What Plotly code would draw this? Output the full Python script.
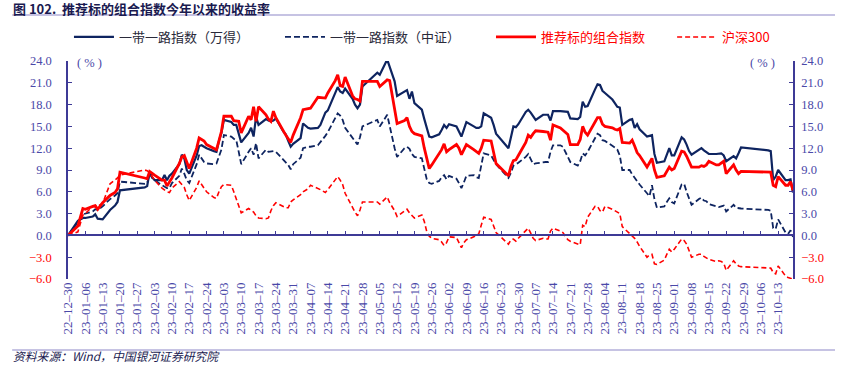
import plotly.graph_objects as go

# ---------------- data ----------------
dates = [
    "2022-12-30", "2023-01-03", "2023-01-05", "2023-01-06", "2023-01-09", "2023-01-10", "2023-01-11", "2023-01-13",
    "2023-01-16", "2023-01-18", "2023-01-19", "2023-01-20", "2023-01-30", "2023-01-31", "2023-02-01", "2023-02-02",
    "2023-02-03", "2023-02-06", "2023-02-07", "2023-02-08", "2023-02-09", "2023-02-10", "2023-02-13", "2023-02-14",
    "2023-02-15", "2023-02-16", "2023-02-17", "2023-02-20", "2023-02-21", "2023-02-22", "2023-02-23", "2023-02-24",
    "2023-02-27", "2023-02-28", "2023-03-01", "2023-03-02", "2023-03-03", "2023-03-06", "2023-03-07", "2023-03-08",
    "2023-03-09", "2023-03-10", "2023-03-13", "2023-03-14", "2023-03-15", "2023-03-16", "2023-03-17", "2023-03-20",
    "2023-03-21", "2023-03-22", "2023-03-23", "2023-03-24", "2023-03-27", "2023-03-28", "2023-03-29", "2023-03-30",
    "2023-03-31", "2023-04-03", "2023-04-04", "2023-04-06", "2023-04-07",
    "2023-04-10", "2023-04-11", "2023-04-12", "2023-04-13", "2023-04-14", "2023-04-17", "2023-04-18", "2023-04-19",
    "2023-04-20", "2023-04-21", "2023-04-24", "2023-04-25", "2023-04-26", "2023-04-27", "2023-04-28", "2023-05-04",
    "2023-05-05", "2023-05-08", "2023-05-09", "2023-05-10", "2023-05-11", "2023-05-12", "2023-05-15", "2023-05-16",
    "2023-05-17", "2023-05-18", "2023-05-19", "2023-05-22", "2023-05-23", "2023-05-24", "2023-05-25", "2023-05-26",
    "2023-05-29", "2023-05-30", "2023-05-31", "2023-06-01", "2023-06-02", "2023-06-05", "2023-06-06", "2023-06-07",
    "2023-06-08", "2023-06-09", "2023-06-12", "2023-06-13", "2023-06-14", "2023-06-15", "2023-06-16", "2023-06-19",
    "2023-06-20", "2023-06-21", "2023-06-26", "2023-06-27", "2023-06-28", "2023-06-29", "2023-06-30", "2023-07-03",
    "2023-07-04", "2023-07-05", "2023-07-06", "2023-07-07", "2023-07-10", "2023-07-11", "2023-07-12", "2023-07-13",
    "2023-07-14",
    "2023-07-17", "2023-07-18", "2023-07-19", "2023-07-20", "2023-07-21", "2023-07-24", "2023-07-25", "2023-07-26",
    "2023-07-27", "2023-07-28", "2023-07-31", "2023-08-01", "2023-08-02", "2023-08-03", "2023-08-04", "2023-08-07",
    "2023-08-08", "2023-08-09", "2023-08-10", "2023-08-11", "2023-08-14", "2023-08-15", "2023-08-16", "2023-08-17",
    "2023-08-18", "2023-08-21", "2023-08-22", "2023-08-23", "2023-08-24", "2023-08-25", "2023-08-28", "2023-08-29",
    "2023-08-30", "2023-08-31", "2023-09-01", "2023-09-04", "2023-09-05", "2023-09-06", "2023-09-07", "2023-09-08",
    "2023-09-11", "2023-09-12", "2023-09-13", "2023-09-14", "2023-09-15", "2023-09-18", "2023-09-19", "2023-09-20",
    "2023-09-21", "2023-09-22", "2023-09-25", "2023-09-26", "2023-09-27", "2023-09-28", "2023-10-09", "2023-10-10",
    "2023-10-11", "2023-10-12", "2023-10-13", "2023-10-16", "2023-10-17", "2023-10-18", "2023-10-19",
]

# 一带一路指数（万得）
wind_obor = [
    0.0, 2.0, 2.4, 2.4, 2.6, 2.9, 2.3, 2.2,
    3.5, 4.1, 4.6, 6.2, 6.6, 6.8, 8.8, 8.0,
    7.6, 7.6, 8.3, 7.6, 8.2, 8.5, 9.8, 11.1,
    10.6, 9.0, 8.5, 11.0, 12.3, 12.4, 12.2, 12.0,
    11.6, 11.5, 13.0, 14.1, 15.9, 15.6, 15.2, 15.2,
    14.0, 12.8, 14.1, 14.8, 13.6, 16.3, 15.2, 16.0,
    15.8, 15.7, 15.8, 16.1, 14.3, 13.9, 13.0, 12.2,
    12.6, 13.4, 15.4, 14.8, 14.7,
    14.8, 15.2, 16.0, 16.9, 17.2, 19.8, 20.4, 19.8,
    19.6, 20.2, 18.8, 18.0, 17.5, 18.0, 20.5, 22.4,
    22.1, 24.2, 23.2, 22.2, 21.2, 19.2, 19.8, 20.0,
    18.8, 19.8, 18.2, 17.3, 16.0, 14.8, 13.6, 13.5,
    13.9, 14.5, 15.2, 14.8, 15.3, 15.0, 14.2, 13.6,
    14.6, 15.6, 15.0, 14.8, 14.8, 15.0, 16.8, 16.2,
    15.2, 14.0, 12.0, 13.5, 15.0, 14.9, 15.3, 17.0,
    17.3, 16.9, 16.4, 15.9, 16.6, 16.6, 16.6, 15.8,
    17.1,
    17.1, 17.1, 17.1, 17.0, 16.1, 16.0, 16.3, 18.4,
    17.7, 17.8, 20.1, 20.8, 20.7, 19.9, 19.6, 18.7,
    18.2, 17.7, 17.6, 15.2, 15.9, 16.0, 14.8, 15.3,
    14.6, 13.6, 13.7, 13.8, 11.2, 10.0, 10.2, 11.2,
    12.0, 11.0, 11.0, 13.5, 13.2, 12.5, 11.6, 11.1,
    11.8, 12.0, 11.7, 11.5, 11.2, 11.2, 11.2, 11.3,
    11.0, 10.2, 10.9, 10.6, 11.3, 12.1, 11.7, 11.6,
    7.6, 8.1, 9.0, 7.6, 7.6, 7.7, 5.9,
]

# 一带一路指数（中证）
csi_obor = [
    0.0, 1.8, 2.9, 3.0, 3.3, 3.6, 3.5, 4.0,
    5.0, 5.5, 5.8, 7.4, 7.1, 7.2, 8.5, 7.9,
    7.6, 6.9, 6.7, 6.5, 6.5, 7.2, 8.2, 9.2,
    8.5, 7.6, 7.2, 9.8, 11.1, 10.5, 10.1, 9.9,
    9.8, 9.9, 11.0, 11.8, 13.8, 13.6, 13.3, 13.1,
    11.5, 9.8, 11.5, 12.0, 11.1, 12.7, 10.6, 11.8,
    11.5, 11.6, 11.6, 11.5, 10.4, 10.1, 9.7, 9.1,
    9.8, 10.7, 12.0, 12.2, 12.2,
    12.4, 12.8, 13.3, 13.7, 14.2, 16.2, 16.8, 16.5,
    15.9, 14.8, 13.5, 13.0, 12.5, 13.5, 15.0, 15.9,
    15.0, 16.6, 15.0, 13.6, 12.0, 10.8, 12.0, 12.2,
    11.9, 11.2, 10.8, 10.6, 9.0, 7.7, 7.2, 7.1,
    7.5, 8.0, 8.3, 7.7, 8.2, 7.8, 7.2, 6.5,
    7.3, 8.2, 8.3, 8.0, 7.9, 9.5, 11.3, 11.0,
    10.4, 9.8, 7.9, 8.6, 9.6, 9.8, 10.0, 10.8,
    11.2, 10.5, 9.8, 9.9, 10.1, 10.1, 10.1, 11.5,
    12.4,
    12.4, 12.2, 11.5, 10.8, 10.1, 9.6, 10.2, 11.3,
    11.0, 11.5, 13.4, 14.0, 13.8, 13.1, 13.0, 12.4,
    12.1, 11.8, 11.0, 9.0, 9.0, 8.4, 7.9, 7.4,
    7.0, 5.8, 5.4, 6.9, 5.0, 3.8, 4.0, 4.6,
    5.1, 4.6, 4.4, 7.0, 7.1, 6.0, 5.0, 4.2,
    5.0, 5.2, 4.8, 4.7, 4.3, 4.0, 3.9, 4.0,
    4.1, 3.3, 4.2, 3.8, 3.7, 3.7, 3.5, 3.4,
    1.0, 0.9, 2.2, 0.4, 0.2, 0.7, -0.2,
]

# 推荐标的组合指数
portfolio = [
    0.0, 1.3, 3.7, 3.6, 4.0, 4.1, 3.6, 4.5,
    5.5, 5.9, 6.4, 8.7, 7.9, 7.8, 8.8, 8.5,
    8.3, 7.6, 7.6, 6.8, 7.3, 7.9, 9.9, 10.8,
    11.0, 10.0, 9.2, 12.0, 13.4, 13.2, 13.0, 12.5,
    12.0, 11.8, 13.0, 14.3, 16.4, 16.4, 15.8, 15.7,
    15.7, 14.1, 16.4, 15.9, 17.7, 15.7, 17.7, 16.6,
    16.0, 15.7, 17.1, 16.2, 14.3, 13.8, 13.3, 12.8,
    13.8, 16.2, 17.3, 17.5, 17.5,
    19.0, 19.0, 18.9, 18.9, 19.6, 21.3, 22.1, 20.6,
    20.5, 21.8, 19.2, 18.8, 18.7, 18.5, 21.2, 21.2,
    20.5, 21.4, 21.3, 19.3, 17.0, 15.4, 15.8, 16.2,
    15.0, 14.3, 14.0, 13.7, 12.0, 10.5, 9.2, 9.7,
    11.2, 11.8, 12.6, 11.5, 11.8, 12.5, 12.0, 11.1,
    11.8, 12.5, 11.8, 11.5, 11.3, 12.0, 13.1, 13.0,
    11.5, 9.9, 8.2, 9.5, 10.3, 10.4, 11.0, 12.8,
    13.8, 13.5, 14.0, 14.4, 14.3, 14.2, 14.2, 13.1,
    15.2,
    14.8, 14.5, 14.2, 13.9, 12.5, 12.5, 13.2, 15.0,
    14.2, 13.8, 15.6, 16.2, 16.2, 15.3, 15.0, 14.8,
    14.6, 14.5, 14.7, 12.8, 12.7, 13.1, 12.3, 11.4,
    11.0, 9.4, 10.0, 10.6, 9.0, 8.0, 8.2, 8.8,
    9.4, 9.0, 9.2, 11.6, 11.5, 10.9, 10.1, 9.4,
    9.4, 9.6, 9.5, 9.7, 10.2, 9.7, 9.7, 10.0,
    10.2, 8.5, 9.7, 9.0, 8.5, 8.8, 8.8, 8.7,
    6.9, 6.7, 8.1, 6.9, 6.9, 7.4, 6.2,
]

# 沪深300
hs300 = [
    0.0, 0.5, 2.8, 3.0, 4.0, 4.1, 4.0, 4.4,
    7.1, 7.6, 7.9, 8.3, 9.0, 8.9, 8.6, 8.1,
    7.6, 6.5, 6.2, 6.0, 5.9, 6.5, 7.4, 7.0,
    6.6, 5.6, 4.8, 6.6, 7.5, 7.0, 6.5, 6.0,
    5.2, 5.1, 6.0, 6.7, 7.0, 6.9, 6.0, 5.1,
    4.0, 3.1, 3.7, 3.4, 3.2, 2.7, 2.4, 2.3,
    2.4, 3.4, 4.1, 4.5, 4.0, 3.8, 3.8, 4.6,
    4.9, 5.6, 6.0, 6.4, 6.9,
    6.5, 6.3, 6.1, 5.9, 6.3, 7.6, 8.1, 7.6,
    7.0, 5.8, 3.7, 3.2, 2.7, 3.5, 4.6, 4.6,
    4.3, 5.3, 4.5, 4.0, 3.4, 2.6, 3.3, 3.6,
    3.1, 2.8, 2.4, 2.8, 1.9, 0.5, -0.1, -0.4,
    -0.6, -0.9, -1.4, -1.0, -0.2, -0.3, -0.9, -1.7,
    -1.0, -0.6, -0.2, 0.0, 0.2, 1.4, 2.5, 2.2,
    1.3, 0.4, -1.2, -0.6, -0.5, -0.8, -0.4, 0.7,
    1.0, 0.3, -0.4, -0.7, -0.4, -0.5, -0.5, 0.6,
    1.0,
    0.6, 0.4, -0.1, -0.6, -0.8, -1.2, -1.3, 1.4,
    1.2, 2.5, 4.0, 4.0, 3.4, 3.2, 4.0, 3.6,
    3.4, 3.2, 3.0, 1.2, 0.2, 0.0, -0.4, -0.9,
    -1.5, -3.0, -2.7, -2.6, -3.9, -4.0, -3.4, -2.6,
    -1.9, -2.3, -1.9, -0.5, -0.7, -1.2, -2.2, -3.0,
    -2.6, -2.6, -2.9, -3.1, -3.3, -3.6, -3.5, -3.6,
    -3.8, -4.8, -3.5, -3.9, -4.2, -4.3, -4.5, -4.5,
    -5.1, -5.3, -4.2, -5.6, -5.8, -5.9, -6.0,
]

x_tick_dates = [
    "2022-12-30", "2023-01-06", "2023-01-13", "2023-01-20", "2023-01-27", "2023-02-03", "2023-02-10",
    "2023-02-17", "2023-02-24", "2023-03-03", "2023-03-10", "2023-03-17", "2023-03-24", "2023-03-31",
    "2023-04-07", "2023-04-14", "2023-04-21", "2023-04-28", "2023-05-05", "2023-05-12", "2023-05-19",
    "2023-05-26", "2023-06-02", "2023-06-09", "2023-06-16", "2023-06-23", "2023-06-30", "2023-07-07",
    "2023-07-14", "2023-07-21", "2023-07-28", "2023-08-04", "2023-08-11", "2023-08-18", "2023-08-25",
    "2023-09-01", "2023-09-08", "2023-09-15", "2023-09-22", "2023-09-29", "2023-10-06", "2023-10-13",
]
x_tick_labels = [d[2:].replace("-", "–") for d in x_tick_dates]

y_tick_vals = [-6, -3, 0, 3, 6, 9, 12, 15, 18, 21, 24]

series_names = ["一带一路指数（万得）", "一带一路指数（中证）", "推荐标的组合指数", "沪深300"]

# ---------------- styling ----------------
NAVY = "#0E2460"
RED = "#FF0000"
AXIS = "#3E3A96"
TICKC = "#4A48A8"
SERIF = "Liberation Serif, Times New Roman, serif"
CJK = "Noto Sans CJK SC, sans-serif"
GAP_A = "\u2003\u2003"
GAP_B = "\u2003\u2002\u2009"


def ytext(v):
    s = f"{abs(v):.1f}"
    if v < 0:
        return f'<span style="color:{RED}">−{s}</span>'
    return s


y_tick_text = [ytext(v) for v in y_tick_vals]

fig = go.Figure()

fig.add_trace(go.Scatter(x=dates, y=wind_obor, mode="lines",
                         name=series_names[0] + GAP_A,
                         line=dict(color=NAVY, width=2.2)))
fig.add_trace(go.Scatter(x=dates, y=csi_obor, mode="lines",
                         name=series_names[1] + GAP_A,
                         line=dict(color=NAVY, width=1.8, dash="6px,3px")))
fig.add_trace(go.Scatter(x=dates, y=portfolio, mode="lines",
                         name=f'<span style="color:{RED}">{series_names[2]}</span>' + GAP_B,
                         line=dict(color=RED, width=2.8)))
fig.add_trace(go.Scatter(x=dates, y=hs300, mode="lines",
                         name=f'<span style="color:{RED}">{series_names[3]}</span>',
                         line=dict(color=RED, width=1.6, dash="5px,3px")))
# helper trace so the zero-line axis and right axis get drawn
fig.add_trace(go.Scatter(x=[dates[0]], y=[None], xaxis="x2", yaxis="y2",
                         showlegend=False, hoverinfo="skip", mode="lines"))

x_range = ["2022-12-30", "2023-10-19"]

fig.update_layout(
    width=841, height=370,
    margin=dict(l=68, r=48, t=61, b=91, autoexpand=False),
    paper_bgcolor="white", plot_bgcolor="white",
    font=dict(family=CJK, size=12, color="#333333"),
    showlegend=True,
    legend=dict(orientation="h", xref="container", yref="container",
                x=0.082, xanchor="left", y=0.9, yanchor="middle",
                font=dict(family=CJK, size=13, color="#2A2A3A"),
                itemwidth=40, tracegroupgap=0, bgcolor="rgba(0,0,0,0)"),
    xaxis=dict(type="date", range=x_range, showgrid=False, zeroline=False,
               showline=False, ticks="", tickmode="array",
               tickvals=x_tick_dates, ticktext=x_tick_labels, tickangle=-90,
               tickfont=dict(family=SERIF, size=13, color=TICKC)),
    xaxis2=dict(type="date", overlaying="x", matches="x", anchor="free", position=0.2,
                side="bottom", showgrid=False, zeroline=False, showline=True,
                linecolor=AXIS, linewidth=1.5, ticks="inside", ticklen=4,
                tickwidth=1, tickcolor=AXIS, tickmode="array", tickvals=x_tick_dates,
                showticklabels=False),
    yaxis=dict(range=[-6, 24], showgrid=False, zeroline=False, showline=True,
               linecolor=AXIS, linewidth=1.5, ticks="inside", ticklen=4,
               tickcolor=AXIS, tickmode="array", tickvals=y_tick_vals,
               ticktext=y_tick_text, ticklabelstandoff=12,
               tickfont=dict(family=SERIF, size=12.5, color=TICKC)),
    yaxis2=dict(range=[-6, 24], overlaying="y", side="right", anchor="x", showgrid=False,
                zeroline=False, showline=True, linecolor=AXIS, linewidth=1.5,
                ticks="inside", ticklen=4, tickcolor=AXIS, tickmode="array",
                tickvals=y_tick_vals, ticktext=y_tick_text, ticklabelstandoff=4,
                tickfont=dict(family=SERIF, size=12.5, color=TICKC)),
)

# title, unit labels, source
fig.add_annotation(text="<b>图 102.  推荐标的组合指数今年以来的收益率</b>", xref="paper", yref="paper",
                   x=-0.079, y=1.2431, xanchor="left", yanchor="middle", showarrow=False,
                   font=dict(family=CJK, size=13, color="#1A1A50"))
fig.add_shape(type="line", xref="paper", yref="paper", x0=-0.077, x1=1.058, y0=1.211, y1=1.211,
              line=dict(color="#8E88C8", width=1.2))
fig.add_annotation(text="( % )", xref="paper", yref="paper", x=0.030, y=0.99,
                   xanchor="center", yanchor="middle", showarrow=False,
                   font=dict(family=SERIF, size=12.5, color=TICKC))
fig.add_annotation(text="( % )", xref="paper", yref="paper", x=0.958, y=0.99,
                   xanchor="center", yanchor="middle", showarrow=False,
                   font=dict(family=SERIF, size=12.5, color=TICKC))
fig.add_shape(type="line", xref="paper", yref="paper", x0=-0.077, x1=1.058, y0=-0.3257, y1=-0.3257,
              line=dict(color="#8E88C8", width=1.2))
fig.add_annotation(text="<i>资料来源：Wind，中国银河证券研究院</i>", xref="paper", yref="paper",
                   x=-0.079, y=-0.352, xanchor="left", yanchor="middle", showarrow=False,
                   font=dict(family=CJK, size=11.8, color="#1A1A50"))

fig.write_html("out.html", post_script="document.body.style.margin='0';",
               config={"displayModeBar": False})
